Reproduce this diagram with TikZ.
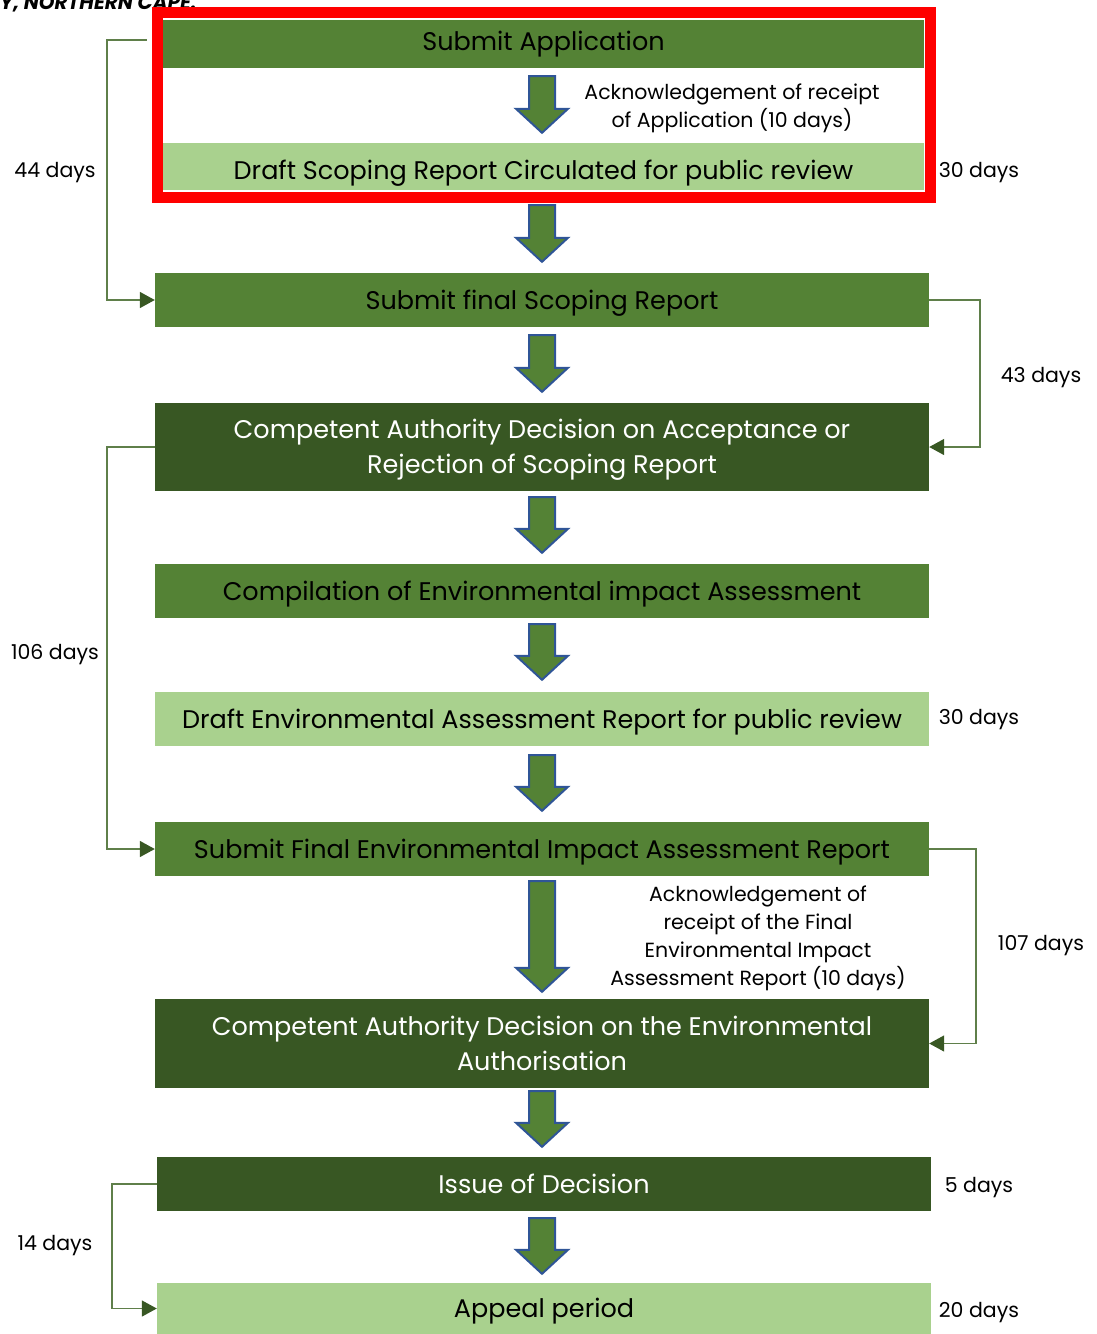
\documentclass[tikz,border=0pt]{standalone}
\usepackage{fontspec}
\setmainfont{Poppins}
\usetikzlibrary{arrows.meta,calc}
\definecolor{midgreen}{HTML}{548235}
\definecolor{lightgreen}{HTML}{A9D18E}
\definecolor{darkgreen}{HTML}{385723}
\definecolor{linkgreen}{HTML}{5F7F4A}
\definecolor{arrowblue}{HTML}{2F5597}
\newcommand\boxfont{\fontsize{25.5}{35}\selectfont}
\newcommand\notefont{\fontsize{20.5}{28}\selectfont}
\tikzset{
    stage/.style={minimum width=774pt, minimum height=54pt, inner sep=0pt, align=center, font=\boxfont,
        text height=25pt, text depth=7pt}, % box of one step
    twolines/.style={text height=60pt},
    midbox/.style={stage, fill=midgreen, text=black},
    lightbox/.style={stage, fill=lightgreen, text=black},
    darkbox/.style={stage, fill=darkgreen, text=white},
    link/.style={draw=linkgreen, line width=1.5pt, -{Triangle[length=15pt, width=16pt, color=darkgreen]}},
    days/.style={font=\notefont, inner sep=0pt},
    blockarrow/.style={fill=midgreen, draw=arrowblue, line width=2pt, line join=miter}
}

\begin{document}
\begin{tikzpicture}[x=1pt, y=-1pt]
    \useasboundingbox (0,0) rectangle (1096,1334);
    \clip (0,0) rectangle (1096,1334);

    \node[anchor=base east, font=\fontsize{20}{24}\selectfont\bfseries\itshape] (head) at (200,9) {Y, NORTHERN CAPE.};

    % steps
    \node[midbox, minimum width=761pt, minimum height=48pt, text height=19pt] (sa) at (543.5,44) {Submit Application};
    \node[lightbox, minimum width=761pt, minimum height=47pt, text height=32pt] (ds) at (543.5,166.5) {Draft Scoping Report Circulated for public review};
    \node[midbox] (fs) at (542,300) {Submit final Scoping Report};
    \node[darkbox, twolines, minimum height=88pt] (ca) at (542,447) {Competent Authority Decision on Acceptance or\\Rejection of Scoping Report};
    \node[midbox] (ce) at (542,591) {Compilation of Environmental impact Assessment};
    \node[lightbox] (de) at (542,719) {Draft Environmental Assessment Report for public review};
    \node[midbox] (fe) at (542,849) {Submit Final Environmental Impact Assessment Report};
    \node[darkbox, twolines, minimum height=89pt] (cd) at (542,1043.5) {Competent Authority Decision on the Environmental\\Authorisation};
    \node[darkbox] (id) at (544,1184) {Issue of Decision};
    \node[lightbox, minimum height=51pt] (ap) at (544,1308.5) {Appeal period};

    \node[draw=red, line width=11pt, minimum width=773pt, minimum height=185pt, inner sep=0pt] (frame) at (544,105) {};

    % notes
    \node[days, align=center] (ack1) at (732,108) {Acknowledgement of receipt\\of Application (10 days)};
    \node[days, align=center] (ack2) at (758,938.5) {Acknowledgement of\\receipt of the Final\\Environmental Impact\\Assessment Report (10 days)};

    % block arrows
    \foreach \a/\b/\g/\h in {sa/ds/8/10, ds/fs/15/11, fs/ca/8/11, ca/ce/6/11, ce/de/6/12, de/fe/9/11, fe/cd/5/7, cd/id/3/10, id/ap/7/9} {
        \draw[blockarrow] let \p1=(\a.south), \p2=(\b.north) in
            (529pt,\y1-\g) -- (555pt,\y1-\g) -- (555pt,\y2+\h+24) -- (568pt,\y2+\h+24) -- (542pt,\y2+\h)
            -- (516pt,\y2+\h+24) -- (529pt,\y2+\h+24) -- cycle;
    }

    % timelines
    \draw[link] ($(frame.west)+(-5.5,-65)$) -- (107,40) |- (fs.west);
    \draw[link] (fs.east) -- ++(51,0) |- (ca.east);
    \draw[link] (ca.west) -- ++(-48,0) |- (fe.west);
    \draw[link] (fe.east) -- ++(47,0) |- (cd.east);
    \draw[link] (id.west) -- ++(-45,0) |- (ap.west);

    \node[days] (d44) at (55,173) {44 days};
    \node[days] (d43) at (1041,378) {43 days};
    \node[days] (d106) at (55,655) {106 days};
    \node[days] (d107) at (1041,946) {107 days};
    \node[days] (d14) at (55,1246) {14 days};
    \node[days] (d30a) at (979,173) {30 days};
    \node[days] (d30b) at (979,720) {30 days};
    \node[days] (d5) at (979,1188) {5 days};
    \node[days] (d20) at (979,1313) {20 days};
\end{tikzpicture}
\end{document}
